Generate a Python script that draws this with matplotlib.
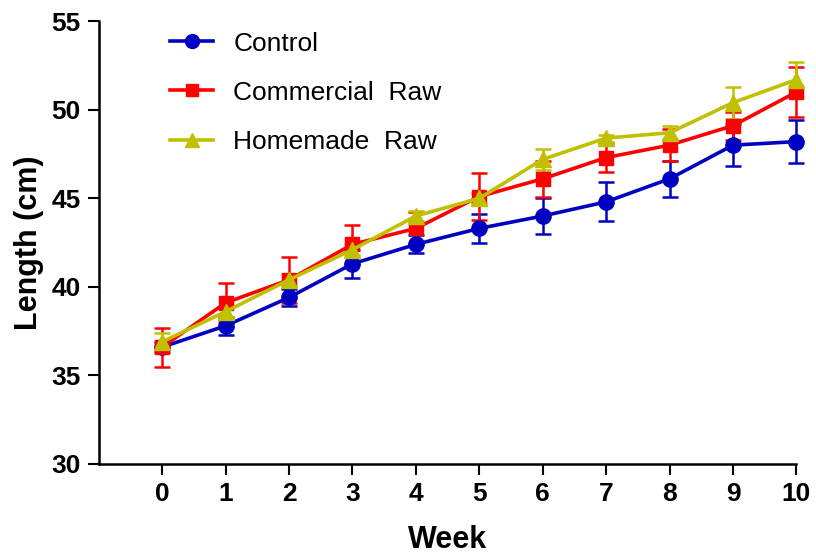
import numpy as np
import matplotlib.pyplot as plt
from matplotlib.lines import Line2D

plt.rcParams['font.family'] = ['Liberation Sans', 'DejaVu Sans']

# data
weeks = [0, 1, 2, 3, 4, 5, 6, 7, 8, 9, 10]
control = [36.6, 37.8, 39.4, 41.3, 42.4, 43.3, 44.0, 44.8, 46.1, 48.0, 48.2]
control_err = [0.3, 0.5, 0.5, 0.8, 0.5, 0.8, 1.0, 1.1, 1.0, 1.2, 1.2]
commercial = [36.6, 39.1, 40.4, 42.4, 43.3, 45.1, 46.1, 47.3, 48.0, 49.1, 51.0]
commercial_err = [1.1, 1.1, 1.3, 1.1, 0.9, 1.3, 1.0, 0.8, 0.9, 0.8, 1.4]
homemade = [36.9, 38.6, 40.4, 42.1, 44.0, 45.0, 47.2, 48.4, 48.7, 50.4, 51.7]
homemade_err = [0.5, 0.3, 0.3, 0.3, 0.3, 0.3, 0.6, 0.2, 0.4, 0.9, 1.0]

fig = plt.figure(figsize=(8.16, 5.57), dpi=100)
ax = fig.add_axes([0.121, 0.167, 0.855, 0.795])

series = [
    (control, control_err, "#0000C0", "o", 11, "Control"),
    (commercial, commercial_err, "#FF0000", "s", 10, "Commercial  Raw"),
    (homemade, homemade_err, "#C0C000", "^", 11, "Homemade  Raw"),
]
handles = []
for vals, err, col, mk, ms, lab in series:
    ax.errorbar(weeks, vals, yerr=err, color=col, marker=mk, markersize=ms,
                linewidth=2.6, elinewidth=1.8, capsize=6, capthick=1.8,
                clip_on=False)
    handles.append(Line2D([], [], color=col, marker=mk, markersize=ms - 1,
                          linewidth=2.6, label=lab))

ax.set_xlim(-1, 10)
ax.set_ylim(30, 55)
ax.set_xticks(weeks)
ax.set_yticks([30, 35, 40, 45, 50, 55])
ax.spines['top'].set_visible(False)
ax.spines['right'].set_visible(False)
ax.spines['left'].set_linewidth(1.8)
ax.spines['bottom'].set_linewidth(1.8)
ax.tick_params(axis='both', direction='out', length=8, width=1.5, labelsize=19, pad=5)
for t in ax.get_xticklabels() + ax.get_yticklabels():
    t.set_fontweight('bold')
ax.set_xlabel("Week", fontsize=22, fontweight='bold', labelpad=14)
ax.set_ylabel("Length (cm)", fontsize=22, fontweight='bold', labelpad=5)

ax.legend(handles=handles, loc='upper left', bbox_to_anchor=(0.068, 1.03), frameon=False,
          fontsize=19, handlelength=1.65, labelspacing=0.95, handletextpad=0.75)

fig.savefig("out.png", dpi=100)
